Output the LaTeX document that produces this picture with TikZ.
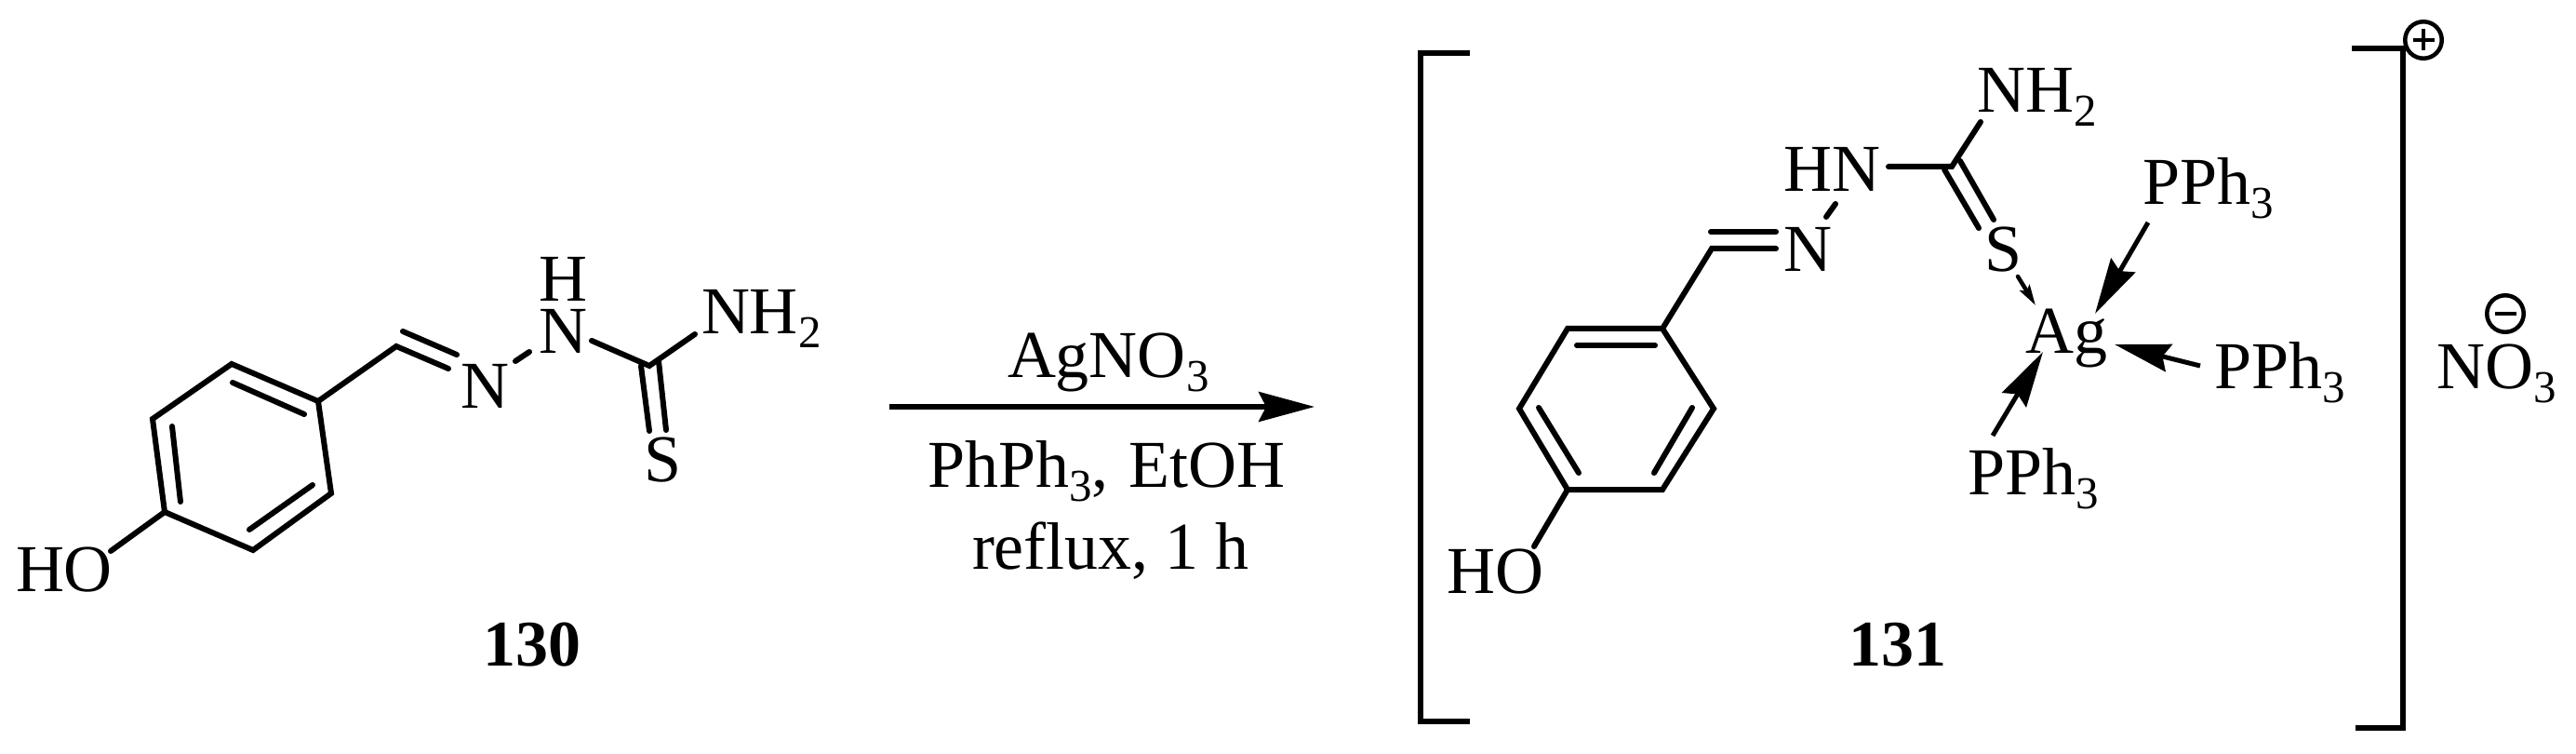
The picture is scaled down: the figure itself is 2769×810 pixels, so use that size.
\documentclass[tikz,border=0pt]{standalone}
\usepackage{fontspec}
\setmainfont{Liberation Serif}
\usetikzlibrary{arrows.meta}
\newcommand{\sbs}[1]{\raisebox{-15pt}{\fontsize{49}{49}\selectfont #1}}
\tikzset{
  x=1pt,y=-1pt,
  every node/.style={inner sep=0pt,outer sep=0pt},
  lab/.style={anchor=base west,font=\fontsize{72}{72}\selectfont},
  blab/.style={anchor=base west,font=\fontsize{70}{70}\selectfont\bfseries},
  bond/.style={line width=6pt,line cap=round,line join=miter},
  brack/.style={line width=6pt,line cap=butt,line join=miter},
  dat/.style={line width=5pt,line cap=butt,-{Stealth[length=60pt,width=30pt,inset=7pt]}},
  dats/.style={line width=4.5pt,line cap=round,-{Stealth[length=22pt,width=12pt,inset=4pt]}},
  rxn/.style={line width=5.3pt,-{Stealth[length=60pt,width=32pt,inset=8pt]}},
  chg/.style={circle,draw,line width=4.5pt,minimum size=39.5pt},
  chgl/.style={line width=4.5pt}
}
\begin{document}
\begin{tikzpicture}
\useasboundingbox (0,0) rectangle (2769,810);
% Compound 130
\coordinate (a1) at (342,431);
\coordinate (a2) at (356,530);
\coordinate (a3) at (272,591);
\coordinate (a4) at (177,550);
\coordinate (a5) at (164,450);
\coordinate (a6) at (249,391);
\coordinate (a7) at (426,372);
\coordinate (a8) at (698,393);
\coordinate (ai1) at (250,411); \coordinate (ai2) at (327,445);
\coordinate (ai3) at (185,458); \coordinate (ai4) at (194,539);
\coordinate (ai5) at (336,521); \coordinate (ai6) at (268,569);
\coordinate (ad2) at (482,396);
\coordinate (ad3) at (433,356); \coordinate (ad4) at (491,381);
\coordinate (ad5) at (689,393); \coordinate (ad6) at (698,463);
\coordinate (ad7) at (708,388); \coordinate (ad8) at (716,462);
\coordinate (as1) at (554,388); \coordinate (as2) at (569,378);
\coordinate (as3) at (636,366);
\coordinate (as4) at (747,359);
\coordinate (as5) at (119,592);
\draw[bond] (a1)--(a2)--(a3)--(a4)--(a5)--(a6)--cycle;
\draw[bond] (a1)--(a7)--(ad2);
\draw[bond] (ad3)--(ad4);
\draw[bond] (ai1)--(ai2);
\draw[bond] (ai3)--(ai4);
\draw[bond] (ai5)--(ai6);
\draw[bond] (as1)--(as2);
\draw[bond] (as3)--(a8)--(as4);
\draw[bond] (ad5)--(ad6);
\draw[bond] (ad7)--(ad8);
\draw[bond] (a4)--(as5);
\node[lab] (ho1) at (17,635) {HO};
\node[lab] (n1) at (495,438) {N};
\node[lab] (n2) at (579,379) {N};
\node[lab] (h1) at (579,324) {H};
\node[lab] (nh1) at (754,359) {NH\sbs{2}};
\node[lab] (s1) at (692,517) {S};
\node[blab] (lab130) at (519,715) {130};
% Reaction arrow
\coordinate (r1) at (956,437);
\coordinate (r2) at (1413,437);
\draw[rxn] (r1)--(r2);
\node[lab] (re1) at (1083,405) {AgNO\sbs{3}};
\node[lab] (re2) at (997,523) {PhPh\sbs{3},\kern4pt\ EtOH};
\node[lab] (re3) at (1045,611) {reflux, 1 h};
% Brackets
\coordinate (bl1) at (1580,57); \coordinate (bl2) at (1527,57);
\coordinate (bl3) at (1527,775); \coordinate (bl4) at (1580,775);
\coordinate (br1) at (2528,52); \coordinate (br2) at (2583,52);
\coordinate (br3) at (2583,782); \coordinate (br4) at (2532,782);
\draw[brack] (bl1)--(bl2)--(bl3)--(bl4);
\draw[brack] (br1)--(br2)--(br3)--(br4);
% Compound 131
\coordinate (b1) at (1787,353);
\coordinate (b2) at (1842,439);
\coordinate (b3) at (1787,526);
\coordinate (b4) at (1685,526);
\coordinate (b5) at (1633,439);
\coordinate (b6) at (1685,353);
\coordinate (b7) at (1840,267);
\coordinate (b8) at (2098,179);
\coordinate (bi1) at (1695,371); \coordinate (bi2) at (1779,371);
\coordinate (bi3) at (1654,438); \coordinate (bi4) at (1697,508);
\coordinate (bi5) at (1819,438); \coordinate (bi6) at (1778,508);
\coordinate (bd1) at (1909,267);
\coordinate (bd2) at (1839,249); \coordinate (bd3) at (1909,249);
\coordinate (bd4) at (2090,182); \coordinate (bd5) at (2127,245);
\coordinate (bd6) at (2107,173); \coordinate (bd7) at (2143,236);
\coordinate (bs1) at (1963,233); \coordinate (bs2) at (1973,219);
\coordinate (bs3) at (2030,179); \coordinate (bs4) at (2129,131);
\coordinate (bs5) at (1649,587);
\draw[bond] (b1)--(b2)--(b3)--(b4)--(b5)--(b6)--cycle;
\draw[bond] (b1)--(b7)--(bd1);
\draw[bond] (bd2)--(bd3);
\draw[bond] (bi1)--(bi2);
\draw[bond] (bi3)--(bi4);
\draw[bond] (bi5)--(bi6);
\draw[bond] (bs1)--(bs2);
\draw[bond] (bs3)--(b8)--(bs4);
\draw[bond] (bd4)--(bd5);
\draw[bond] (bd6)--(bd7);
\draw[bond] (b4)--(bs5);
\node[lab] (ho2) at (1555,637) {HO};
\node[lab] (n3) at (1917,292) {N};
\node[lab] (hn) at (1917,206) {HN};
\node[lab] (nh2) at (2125,121) {NH\sbs{2}};
\node[lab] (s2) at (2133,292) {S};
\node[lab] (ag) at (2177,379) {Ag};
\node[lab] (p1) at (2303,220) {PPh\sbs{3}};
\node[lab] (p2) at (2380,417) {PPh\sbs{3}};
\node[lab] (p3) at (2115,531) {PPh\sbs{3}};
\node[blab] (lab131) at (1987,715) {131};
\coordinate (ar1) at (2169,297); \coordinate (ar2) at (2188,328);
\coordinate (ar3) at (2309,239); \coordinate (ar4) at (2252,337);
\coordinate (ar5) at (2365,393); \coordinate (ar6) at (2273,370);
\coordinate (ar7) at (2142,468); \coordinate (ar8) at (2196,378);
\draw[dats] (ar1)--(ar2);
\draw[dat] (ar3)--(ar4);
\draw[dat] (ar5)--(ar6);
\draw[dat] (ar7)--(ar8);
% Charges and counter-ion
\node[chg] (plus) at (2605,43) {};
\draw[chgl] ([xshift=-11.5pt]plus.center)--([xshift=11.5pt]plus.center);
\draw[chgl] ([yshift=-11.5pt]plus.center)--([yshift=11.5pt]plus.center);
\node[chg] (minus) at (2693,337) {};
\draw[chgl] ([xshift=-11.5pt]minus.center)--([xshift=11.5pt]minus.center);
\node[lab] (no3) at (2619,417) {NO\sbs{3}};
\end{tikzpicture}
\end{document}
